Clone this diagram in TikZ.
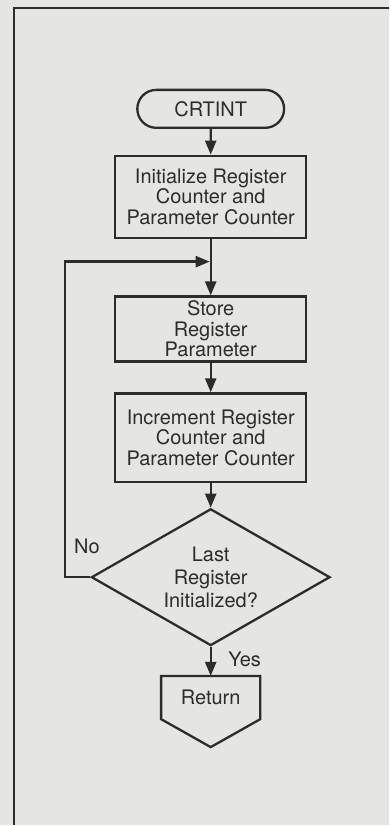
\documentclass[tikz,border=0pt]{standalone}
\usepackage{fontspec}
\setmainfont{TeX Gyre Heros}
\usepackage{tikz}
\usetikzlibrary{positioning, arrows.meta, shapes.geometric, shapes.misc, calc}
\definecolor{scanGray}{RGB}{229,229,227}
\definecolor{inkGray}{RGB}{44,44,44}

\begin{document}
\begin{tikzpicture}[
  x=1pt, y=-1pt, line width=2.3pt, color=inkGray,
  txt/.style={font=\fontsize{20}{20.5}\selectfont, align=center, inner sep=0pt},
  term/.style={txt, draw, rounded rectangle, minimum width=147pt, minimum height=38pt},
  proc/.style={txt, draw, rectangle, minimum width=191pt},
  test/.style={txt, draw, diamond, aspect=1.74, minimum width=239pt, minimum height=137pt,
    font=\fontsize{20}{23}\selectfont},
  flow/.style={-{Triangle[length=14pt, width=11pt]}},
]
  \fill[scanGray] (0,0) rectangle (390,826);
  \draw (390,8) -- (14,8) -- (14,826);

  \node[term] (crtint) at (211,109) {CRTINT};
  \node[proc, minimum height=82pt] (init) at (211,197)
    {Initialize Register\\Counter and\\Parameter Counter};
  \node[proc, minimum height=65pt] (store) at (211,329.5)
    {Store\\Register\\Parameter};
  \node[proc, minimum height=89pt] (incr) at (211,438.5)
    {Increment Register\\Counter and\\Parameter Counter};
  \node[test] (last) at (211,578) {Last\\Register\\Initialized?};
  \node[txt, minimum width=97pt, minimum height=41pt] (ret) at (211,698.5) {Return};
  \draw (ret.north west) -- (ret.north east) -- (ret.south east)
    -- ($(ret.south)+(0,28)$) -- (ret.south west) -- cycle;
  \coordinate (join) at (211,262);
  \node[txt] (no) at (87,547) {No};
  \node[txt] (yes) at (245,660) {Yes};

  \draw[flow] (crtint) -- (init);
  \draw[flow] (init) -- (store);
  \draw[flow] (store) -- (incr);
  \draw[flow] (incr) -- (last);
  \draw[flow] (last) -- (ret);
  \draw[flow, shorten >=1pt] (last.west) -- ++(-25,0) |- (join);
\end{tikzpicture}
\end{document}
